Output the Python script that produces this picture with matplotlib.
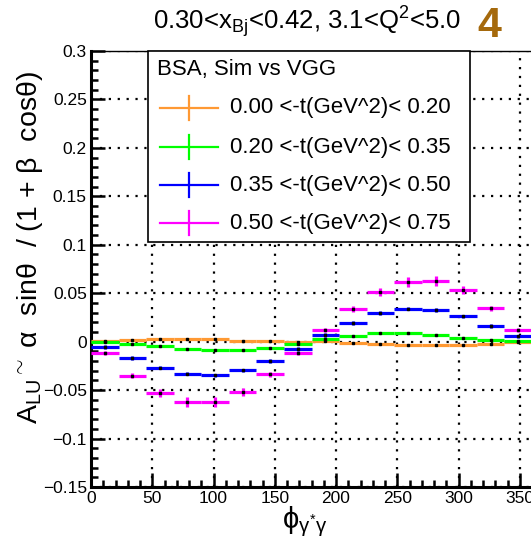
import numpy as np
import matplotlib
matplotlib.use("Agg")
import matplotlib.pyplot as plt
from matplotlib.transforms import Affine2D
from matplotlib.patches import Rectangle
from matplotlib.lines import Line2D
from matplotlib.ticker import MultipleLocator, FormatStrFormatter

plt.rcParams['font.family'] = ['Liberation Sans', 'DejaVu Sans']
plt.rcParams['mathtext.fontset'] = 'custom'
plt.rcParams['mathtext.rm'] = 'Liberation Sans'
plt.rcParams['mathtext.it'] = 'Liberation Sans'
plt.rcParams['mathtext.bf'] = 'Liberation Sans:bold'
plt.rcParams['axes.unicode_minus'] = True

# ---------------- data ----------------
phi_centers = [11.25, 33.75, 56.25, 78.75, 101.25, 123.75, 146.25, 168.75,
               191.25, 213.75, 236.25, 258.75, 281.25, 303.75, 326.25, 348.75]
bin_half_width = 11.25

labels = ["0.00 <-t(GeV^2)< 0.20", "0.20 <-t(GeV^2)< 0.35",
          "0.35 <-t(GeV^2)< 0.50", "0.50 <-t(GeV^2)< 0.75"]
colors = ["#ff9933", "#00ff00", "#0000ff", "#ff00ff"]

bsa_t1 = [0.0005, 0.0015, 0.0026, 0.0030, 0.0023, 0.0012, 0.0008, -0.0008,
          0.0008, -0.0012, -0.0023, -0.0030, -0.0036, -0.0033, -0.0023, -0.0005]
bsa_t2 = [-0.0005, -0.0020, -0.0047, -0.0074, -0.0090, -0.0088, -0.0067, -0.0026,
          0.0023, 0.0060, 0.0088, 0.0091, 0.0070, 0.0040, 0.0016, 0.0008]
bsa_t3 = [-0.0057, -0.0167, -0.0267, -0.0330, -0.0347, -0.0295, -0.0198, -0.0074,
          0.0067, 0.0195, 0.0295, 0.0340, 0.0326, 0.0260, 0.0160, 0.0054]
bsa_t4 = [-0.0119, -0.0350, -0.0530, -0.0626, -0.0623, -0.0516, -0.0338, -0.0122,
          0.0119, 0.0336, 0.0516, 0.0619, 0.0626, 0.0530, 0.0343, 0.0119]

err_t1 = [0.001] * 16
err_t2 = [0.001] * 16
err_t3 = [0.0018] * 16
err_t4 = [0.002, 0.003, 0.004, 0.005, 0.005, 0.004, 0.003, 0.002,
          0.002, 0.003, 0.004, 0.005, 0.005, 0.004, 0.003, 0.002]

series = [bsa_t1, bsa_t2, bsa_t3, bsa_t4]
errors = [err_t1, err_t2, err_t3, err_t4]

xlim = (0, 360)
ylim = (-0.15, 0.3)

# ---------------- figure ----------------
W, H = 531, 543
fig = plt.figure(figsize=(W / 100, H / 100), dpi=100)
px = Affine2D().scale(1.0 / W, -1.0 / H).translate(0, 1) + fig.transFigure

left, right, top, bottom = 91, 532, 51, 487
ax = fig.add_axes([left / W, 1 - bottom / H, (right - left) / W, (bottom - top) / H])
ax.set_xlim(*xlim)
ax.set_ylim(*ylim)

ax.grid(True, which='major', color='black', linestyle=(0, (1, 3)), linewidth=1.6)
ax.set_axisbelow(True)

for vals, errs, col in zip(series, errors, colors):
    ax.errorbar(phi_centers, vals, xerr=bin_half_width, yerr=errs, fmt='none',
                ecolor=col, elinewidth=2.3, capsize=0, zorder=3)
for vals in series:
    ax.errorbar(phi_centers, vals, yerr=0.001, fmt='s', color='black',
                markersize=1.8, elinewidth=0.8, capsize=0, zorder=4)

# spines
for s in ['left', 'bottom']:
    ax.spines[s].set_linewidth(2.2)
ax.spines['top'].set_linewidth(1.0)
ax.spines['right'].set_linewidth(1.0)

ax.xaxis.set_major_locator(MultipleLocator(50))
ax.xaxis.set_minor_locator(MultipleLocator(10))
ax.yaxis.set_major_locator(MultipleLocator(0.05))
ax.yaxis.set_minor_locator(MultipleLocator(0.01))
ax.tick_params(which='both', direction='in', top=False, right=False, width=1.8)
ax.tick_params(which='major', length=10)
ax.tick_params(which='minor', length=5)
ax.tick_params(axis='x', labelsize=12.5, pad=3)
ax.tick_params(axis='y', labelsize=12.5, pad=3)

def yfmt(v, pos):
    if abs(v) < 1e-9:
        return "0"
    s = ("%.2f" % v).rstrip('0')
    return s.replace('-', '\u2212')
ax.yaxis.set_major_formatter(plt.FuncFormatter(yfmt))
ax.xaxis.set_major_formatter(FormatStrFormatter('%d'))

# axis labels
fig.text(30 / W, 1 - 248 / H,
         "A$_{\\rm LU}$$^{\\sim}$ \u03b1  sin\u03b8  / (1 + \u03b2  cos\u03b8)",
         rotation=90, ha='center', va='center', fontsize=20.5)
fig.text(305 / W, 1 - 522 / H, r"$\phi_{\gamma^{*}\gamma}$", ha='center', va='center',
         fontsize=21)

# title
fig.text(307 / W, 1 - 22 / H, r"0.30<x$_{\rm Bj}$<0.42, 3.1<Q$^{2}$<5.0",
         ha='center', va='center', fontsize=18.5)
fig.text(489 / W, 1 - 26 / H, "4", ha='center', va='center', fontsize=31,
         fontweight='bold', color='#a5690c')

# legend (manual)
box = Rectangle((148, 51), 322, 191, transform=px, facecolor='white',
                edgecolor='black', linewidth=1.2, zorder=10)
fig.add_artist(box)
fig.text(157 / W, 1 - 70 / H, "BSA, Sim vs VGG", ha='left', va='center',
         fontsize=16, zorder=11)
rows_y = [108, 147, 185, 223]
for yy, col, lab in zip(rows_y, colors, labels):
    fig.add_artist(Line2D([160, 218], [yy, yy], transform=px, color=col,
                          linewidth=1.6, zorder=11))
    fig.add_artist(Line2D([189, 189], [yy - 12, yy + 12], transform=px, color=col,
                          linewidth=1.6, zorder=11))
    fig.text(230 / W, 1 - yy / H, lab, ha='left', va='center', fontsize=16, zorder=11)

fig.savefig("out.png", dpi=100)
